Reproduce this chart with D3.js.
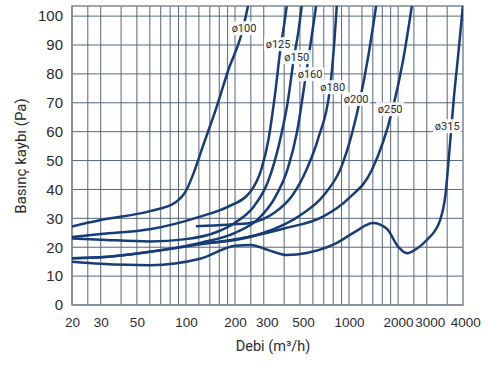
<!DOCTYPE html>
<html>
<head>
<meta charset="utf-8">
<script src="https://cdn.jsdelivr.net/npm/d3@7"></script>
<style>
  body { margin: 0; background: #fff; }
  svg { font-family: Roboto, "Noto Sans", sans-serif; }
  .grid line { stroke: #56677a; stroke-width: 1; }
  .kreska { fill: none; stroke: #173c78; stroke-width: 2.5; }
  .tick-x, .tick-y { fill: #2b2b2b; }
</style>
</head>
<body>
<div id="chart"></div>
<script>
// x ticks (m3/h), log scale
var xTicks = [20, 30, 50, 100, 200, 300, 500, 1000, 2000, 3000, 4000];
var xGrid = [20, 25, 30, 40, 50, 60, 70, 80, 90, 100, 120, 140, 160, 180, 200, 250, 300,
  400, 500, 600, 700, 800, 900, 1000, 1200, 1400, 1600, 1800, 2000, 2500, 3000, 4000];
var yTicks = [0, 10, 20, 30, 40, 50, 60, 70, 80, 90, 100];

var names = ["ø100", "ø125", "ø150", "ø160", "ø180", "ø200", "ø250", "ø315"];

// [debi, basinc kaybi]
var d100 = [[20,27.2],[30,29.4],[60,32.5],[86,35.5],[100,39.5],[112,46],[127,55],[151,67],[181,81],[224,95.8],[240,103.5]];
var d125 = [[20,23.5],[30,24.6],[60,26.2],[122,30.6],[180,34],[247,39],[290,47],[320,57],[350,72],[383,90.3],[400,97],[415,103.5]];
var d150 = [[20,23],[30,22.6],[60,22],[100,22.8],[150,25],[200,28.5],[260,34],[320,43],[370,55],[420,70],[460,85.8],[490,95],[513,103.5]];
var d160 = [[20,16.2],[30,16.5],[60,18.4],[122,21.5],[200,25],[280,30],[350,37],[420,47],[480,60],[545,80],[590,93],[628,103.5]];
var d180 = [[115,27.3],[180,27.8],[247,28.4],[350,32],[450,38],[550,47],[650,58],[766,75.4],[810,90],[841,103.5]];
var d200 = [[118,21.3],[200,22.5],[300,25],[500,31],[700,38],[900,48],[1050,60],[1170,71.3],[1320,87],[1466,103.5]];
var d250 = [[20,16.2],[30,16.5],[60,18.4],[122,21],[215,23],[400,26.5],[693,30.6],[1000,37],[1380,46.7],[1850,67.8],[2150,85],[2428,103.5]];
var d315 = [[20,15],[30,14.3],[60,13.8],[122,16],[200,20.5],[250,20.8],[320,19],[415,17.3],[550,18],[830,21.3],[1100,25.5],[1400,28.4],
  [1700,26.5],[2000,20.2],[2270,17.9],[2600,19.5],[3000,22.5],[3620,29.4],[3900,38],[4150,55],[4400,72],[4700,88],[4990,103.5]];

// label anchors [debi, basinc]
var labelPos = [[227,95.8],[367,90.3],[478,85.8],[577,79.9],[794,75.4],[1105,71.3],[1786,67.8],[4000,61.9]];

var seriler = [d100, d125, d150, d160, d180, d200, d250, d315];

var width = 489, height = 365;
var svg = d3.select("#chart").append("svg")
  .attr("width", width)
  .attr("height", height);

var x = d3.scaleLog().domain([20, 5000]).range([72, 463]);
var y = d3.scaleLinear().domain([0, 103.5]).range([305, 6]);

svg.append("defs").append("clipPath").attr("id", "plot")
  .append("rect").attr("x", 72).attr("y", 6).attr("width", 391).attr("height", 299);

var grid = svg.append("g").attr("class", "grid");
grid.selectAll("line.v").data(xGrid).enter().append("line")
  .attr("class", "v")
  .attr("x1", d => x(d)).attr("x2", d => x(d))
  .attr("y1", y.range()[1]).attr("y2", y.range()[0]);
grid.selectAll("line.h").data(yTicks).enter().append("line")
  .attr("class", "h")
  .attr("x1", x.range()[0]).attr("x2", x.range()[1])
  .attr("y1", d => y(d)).attr("y2", d => y(d));

svg.append("rect")
  .attr("x", 72).attr("y", 6).attr("width", 391).attr("height", 299)
  .attr("fill", "none").attr("stroke", "#7d8996").attr("stroke-width", 1.5);

var line = d3.line()
  .x(d => x(d[0]))
  .y(d => y(d[1]))
  .curve(d3.curveMonotoneX);

svg.append("g").attr("clip-path", "url(#plot)")
  .selectAll("path").data(seriler).enter().append("path")
  .attr("class", "kreska")
  .attr("d", line);

// axes
var xAxis = svg.append("g")
  .attr("transform", "translate(0,305)")
  .call(d3.axisBottom(x).tickValues(xTicks).tickFormat(d3.format("d")).tickSize(0).tickPadding(12));
xAxis.select(".domain").remove();
xAxis.selectAll("text").attr("class", "tick-x").style("font-size", "13.5px");
xAxis.selectAll("text").filter(d => d == 4000).attr("dx", 18);
xAxis.selectAll("text").filter(d => d == 300 || d == 500 || d == 3000).attr("dx", 3);

var yAxis = svg.append("g")
  .attr("transform", "translate(72,0)")
  .call(d3.axisLeft(y).tickValues(yTicks).tickSize(0).tickPadding(9));
yAxis.select(".domain").remove();
yAxis.selectAll("text").attr("class", "tick-y").style("font-size", "15px");

svg.append("text")
  .attr("x", 273).attr("y", 351)
  .attr("text-anchor", "middle")
  .style("font-size", "14.5px").attr("fill", "#2b2b2b")
  .text("Debi (m³/h)");

svg.append("text")
  .attr("transform", "translate(21,156) rotate(-90)")
  .attr("text-anchor", "middle").attr("dy", "0.35em")
  .style("font-size", "15px").attr("fill", "#2b2b2b")
  .text("Basınç kaybı (Pa)");

// curve labels with white box
var etiket = svg.append("g").selectAll("g").data(names).enter().append("g")
  .attr("transform", (d, i) => "translate(" + x(labelPos[i][0]) + "," + y(labelPos[i][1]) + ")");
etiket.append("rect")
  .attr("x", -14).attr("y", -7).attr("width", 28).attr("height", 14)
  .attr("fill", "#fff").attr("opacity", 0.9);
etiket.append("text")
  .attr("text-anchor", "middle").attr("dy", "0.35em")
  .style("font-size", "11px").attr("fill", "#2b2b2b")
  .text(d => d);
</script>
</body>
</html>
